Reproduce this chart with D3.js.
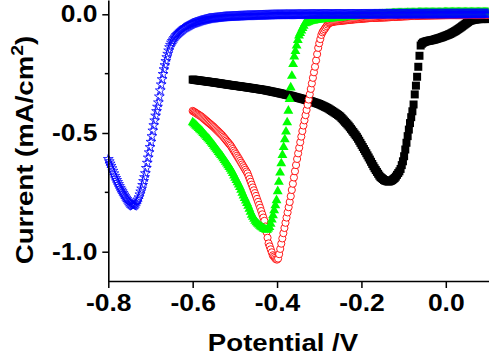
<!DOCTYPE html>
<html><head><meta charset="utf-8">
<script src="https://cdn.jsdelivr.net/npm/d3@7"></script>
<style>html,body{margin:0;padding:0;background:#fff;overflow:hidden}</style>
</head><body>
<svg id="chart" width="489" height="356"></svg>
<script>
// ---- Data ----
const xTicks = [-0.8, -0.6, -0.4, -0.2, 0.0];
const xTickLabels = ["-0.8", "-0.6", "-0.4", "-0.2", "0.0"];
const yTicks = [0.0, -0.5, -1.0];
const yTickLabels = ["0.0", "-0.5", "-1.0"];
const yMinorTicks = [-0.25, -0.75];

const blueX = [-0.80,-0.792,-0.784,-0.772,-0.76,-0.75,-0.741,-0.735,-0.728,-0.72,-0.712,-0.705,-0.699,-0.693,-0.687,-0.681,-0.675,-0.669,-0.662,-0.655,-0.65,-0.64,-0.63,-0.62,-0.60,-0.58,-0.56,-0.52,-0.46,-0.40,-0.30,-0.10,0.10];
const blueY = [-0.61,-0.645,-0.684,-0.73,-0.768,-0.795,-0.808,-0.80,-0.775,-0.73,-0.67,-0.60,-0.54,-0.475,-0.42,-0.37,-0.30,-0.24,-0.185,-0.14,-0.118,-0.09,-0.073,-0.058,-0.039,-0.027,-0.018,-0.010,-0.005,-0.002,0.0,0.001,0.002];

const redX = [-0.60,-0.58,-0.56,-0.55,-0.53,-0.51,-0.49,-0.47,-0.45,-0.44,-0.43,-0.42,-0.41,-0.401,-0.397,-0.385,-0.369,-0.353,-0.338,-0.322,-0.310,-0.302,-0.294,-0.278,-0.266,-0.22,-0.18,-0.14,-0.10,-0.06,0.0,0.10];
const redY = [-0.407,-0.43,-0.46,-0.475,-0.51,-0.553,-0.61,-0.67,-0.765,-0.815,-0.87,-0.965,-1.015,-1.035,-1.028,-0.922,-0.782,-0.614,-0.473,-0.333,-0.221,-0.136,-0.080,-0.038,-0.031,-0.022,-0.016,-0.013,-0.009,-0.006,-0.004,-0.003];

const greenX = [-0.60,-0.58,-0.56,-0.55,-0.53,-0.51,-0.49,-0.48,-0.47,-0.46,-0.45,-0.44,-0.432,-0.424,-0.417,-0.41,-0.401,-0.389,-0.377,-0.369,-0.361,-0.349,-0.334,-0.32,-0.30,-0.27,-0.24,-0.20,-0.15,-0.12,-0.05,0.10];
const greenY = [-0.455,-0.49,-0.53,-0.553,-0.60,-0.652,-0.72,-0.762,-0.80,-0.845,-0.875,-0.892,-0.903,-0.909,-0.895,-0.85,-0.782,-0.614,-0.473,-0.333,-0.193,-0.094,-0.038,-0.028,-0.022,-0.017,-0.012,-0.006,0.0,0.004,0.007,0.008];

const blackX = [-0.60,-0.55,-0.51,-0.47,-0.43,-0.40,-0.37,-0.345,-0.32,-0.30,-0.28,-0.26,-0.25,-0.23,-0.21,-0.19,-0.18,-0.17,-0.156,-0.145,-0.136,-0.128,-0.12,-0.108,-0.10,-0.092,-0.085,-0.077,-0.0735,-0.07,-0.0665,-0.063,-0.0595,-0.055,-0.045,-0.03,-0.01,0.01,0.025,0.037,0.047,0.056,0.068,0.08,0.10];
const blackY = [-0.275,-0.287,-0.298,-0.308,-0.319,-0.330,-0.342,-0.354,-0.366,-0.378,-0.395,-0.418,-0.431,-0.47,-0.518,-0.58,-0.612,-0.645,-0.684,-0.70,-0.705,-0.70,-0.688,-0.656,-0.61,-0.529,-0.46,-0.389,-0.336,-0.29,-0.243,-0.184,-0.13,-0.12,-0.113,-0.108,-0.097,-0.083,-0.068,-0.053,-0.040,-0.028,-0.022,-0.020,-0.020];

// ---- Scales ----
const svg = d3.select("#chart");
const x = d3.scaleLinear().domain([-0.8, 0.1024]).range([108.3, 489]);
const y = d3.scaleLinear().domain([0.0602, -1.1234]).range([0, 281]);
const FONT = "'Liberation Sans', Arial, Helvetica, sans-serif";

function markers(xs, ys, step) {
  const f = d3.scaleLinear().domain(xs).range(ys);
  return d3.range(xs[0], xs[xs.length - 1] + 1e-9, step).map(v => [v, f(v)]);
}

function drawSeries(xs, ys, step, type, size, fill, stroke, sw) {
  const g = svg.append("g");
  const d = d3.symbol().type(type).size(size)();
  g.selectAll("path").data(markers(xs, ys, step)).join("path")
    .attr("d", d)
    .attr("transform", p => `translate(${x(p[0])},${y(p[1])})`)
    .attr("fill", fill)
    .attr("stroke", stroke)
    .attr("stroke-width", sw);
}

drawSeries(blackX, blackY, 0.0028, d3.symbolSquare, 64, "#000", "none", 0);
drawSeries(redX, redY, 0.0025, d3.symbolCircle, 40, "#fff", "#ff0000", 0.9);
drawSeries(greenX, greenY, 0.0028, d3.symbolTriangle, 42, "#00ff00", "none", 0);
drawSeries(blueX, blueY, 0.0022, d3.symbolStar, 30, "none", "#0000ff", 0.8);

// ---- Axes ----
const xAxis = d3.axisBottom(x).tickValues(xTicks)
  .tickFormat((d, i) => xTickLabels[i]).tickSize(7).tickSizeOuter(0).tickPadding(7);
const gx = svg.append("g").attr("transform", "translate(0,281)").call(xAxis);

const yAxis = d3.axisLeft(y).tickValues(yTicks)
  .tickFormat((d, i) => yTickLabels[i]).tickSize(6).tickSizeOuter(0).tickPadding(3.4);
const gy = svg.append("g").attr("transform", "translate(108.3,0)").call(yAxis);

gy.selectAll(".minor").data(yMinorTicks).join("line")
  .attr("class", "minor")
  .attr("x1", 0).attr("x2", -3.5)
  .attr("y1", d => y(d)).attr("y2", d => y(d))
  .attr("stroke", "#000").attr("stroke-width", 1.5);

[gx, gy].forEach(g => {
  g.select(".domain").attr("stroke", "#000").attr("stroke-width", 1.6);
  g.selectAll(".tick line").attr("stroke", "#000").attr("stroke-width", 1.5);
  g.selectAll(".tick text")
    .attr("font-family", FONT).attr("font-weight", "bold")
    .attr("font-size", 23).attr("fill", "#000")
    .attr("transform", "scale(1.15,1)");
});

// ---- Axis titles ----
svg.append("text")
  .attr("x", 0).attr("y", 0)
  .attr("transform", "translate(283,351) scale(1.15,1)")
  .attr("text-anchor", "middle")
  .attr("font-family", FONT).attr("font-weight", "bold").attr("font-size", 24)
  .text("Potential /V");

const yl = svg.append("text")
  .attr("transform", "translate(33,150) rotate(-90) scale(1.15,1)")
  .attr("text-anchor", "middle")
  .attr("font-family", FONT).attr("font-weight", "bold").attr("font-size", 24);
yl.append("tspan").text("Current (mA/cm");
yl.append("tspan").attr("font-size", 17).attr("dy", -10).text("2");
yl.append("tspan").attr("dy", 10).text(")");
</script>
</body></html>
